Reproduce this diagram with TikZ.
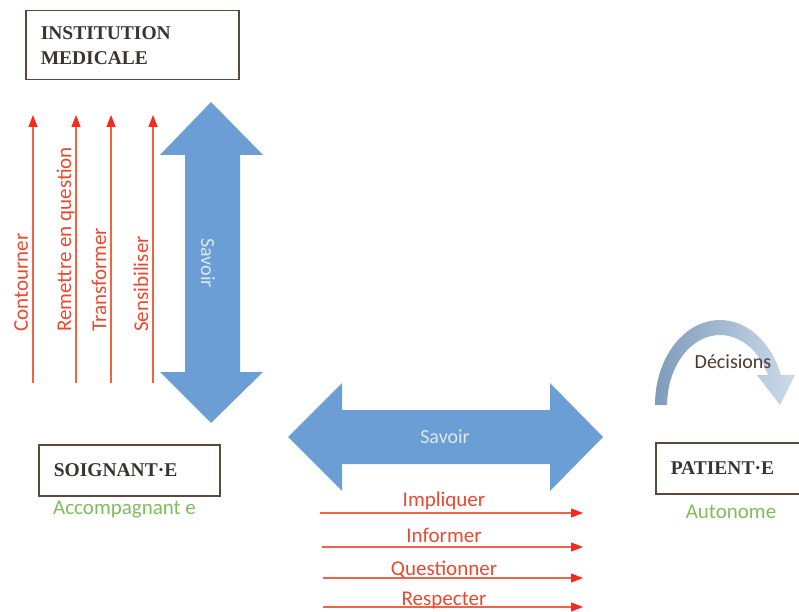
\documentclass[tikz,border=0pt]{standalone}
\usepackage{fontspec}
\setmainfont{Liberation Serif}
\newfontfamily\carl{Carlito}
\usetikzlibrary{arrows.meta}
\definecolor{redline}{RGB}{240,100,70}
\definecolor{redtext}{RGB}{236,72,48}
\definecolor{redtip}{RGB}{250,40,30}
\definecolor{bluearrow}{RGB}{107,158,212}
\definecolor{savoirtext}{RGB}{220,232,244}
\definecolor{boxline}{RGB}{91,74,58}
\definecolor{boxtext}{RGB}{59,52,46}
\definecolor{greentext}{RGB}{125,190,90}
\definecolor{arcdark}{RGB}{126,156,187}
\definecolor{arclight}{RGB}{205,219,234}
\definecolor{dectext}{RGB}{74,59,44}
\begin{document}
\begin{tikzpicture}[x=1pt,y=1pt,
  actor/.style={draw=boxline, line width=1.5pt, rectangle, align=left,
    inner xsep=15pt, inner ysep=0pt, anchor=north west,
    font=\fontsize{19.5}{25}\selectfont\bfseries, text=boxtext},
  redarrow/.style={draw=redline, line width=1.2pt,
    -{Triangle[length=12pt,width=9pt,color=redtip]}},
  vlabel/.style={rotate=90, anchor=base west, inner sep=0pt,
    font=\carl\fontsize{21}{25}\selectfont, text=redtext},
  hlabel/.style={anchor=base, inner sep=0pt,
    font=\carl\fontsize{21}{25}\selectfont, text=redtext},
  savoir/.style={inner sep=0pt, font=\carl\fontsize{20}{24}\selectfont, text=savoirtext},
  greenlabel/.style={inner sep=0pt, font=\carl\fontsize{21}{25}\selectfont, text=greentext}
]
\useasboundingbox (0,0) rectangle (799,611);
\clip (0,0) rectangle (799,611);

% actor boxes
\node[actor, text width=183pt, minimum height=69pt] (inst) at (25,601) {INSTITUTION\\MEDICALE};
\node[actor, text width=151pt, minimum height=51pt] (soig) at (38,167) {SOIGNANT·E};
\node[actor, text width=130pt, minimum height=51pt] (pat) at (655,169) {PATIENT·E};

\node[greenlabel, anchor=west] (acc) at (53,101) {Accompagnant e};
\node[greenlabel] (auto) at (731,99) {Autonome};

% vertical red arrows
\coordinate (c1s) at (33,228);  \coordinate (c1e) at (33,496);
\coordinate (c2s) at (76,228);  \coordinate (c2e) at (76,496);
\coordinate (c3s) at (111,228); \coordinate (c3e) at (111,496);
\coordinate (c4s) at (153,228); \coordinate (c4e) at (153,496);
\draw[redarrow] (c1s) -- (c1e);
\draw[redarrow] (c2s) -- (c2e);
\draw[redarrow] (c3s) -- (c3e);
\draw[redarrow] (c4s) -- (c4e);
\node[vlabel] (l1) at (28,279) {Contourner};
\node[vlabel] (l2) at (71,279) {Remettre en question};
\node[vlabel] (l3) at (106,279) {Transformer};
\node[vlabel] (l4) at (148,279) {Sensibiliser};

% vertical blue double arrow
\fill[bluearrow] (211,509) -- (263,456) -- (240,456) -- (240,239) -- (263,239)
  -- (211,188) -- (160,239) -- (185,239) -- (185,456) -- (160,456) -- cycle;
\node[savoir, rotate=-90] (sv1) at (208,348) {Savoir};

% horizontal blue double arrow
\fill[bluearrow] (288,174) -- (342,228) -- (342,201) -- (550,201) -- (550,228)
  -- (603,174) -- (550,120) -- (550,147) -- (342,147) -- (342,120) -- cycle;
\node[savoir] (sv2) at (445,174) {Savoir};

% horizontal red arrows
\coordinate (h1s) at (320,98); \coordinate (h1e) at (583,98);
\coordinate (h2s) at (322,64); \coordinate (h2e) at (583,64);
\coordinate (h3s) at (323,33); \coordinate (h3e) at (583,33);
\coordinate (h4s) at (323,4);  \coordinate (h4e) at (583,4);
\draw[redarrow] (h1s) -- (h1e);
\draw[redarrow] (h2s) -- (h2e);
\draw[redarrow] (h3s) -- (h3e);
\draw[redarrow] (h4s) -- (h4e);
\node[hlabel] (i1) at (444,105) {Impliquer};
\node[hlabel] (i2) at (444,69) {Informer};
\node[hlabel] (i3) at (444,36) {Questionner};
\node[hlabel] (i4) at (444,6) {Respecter};

% curved arrow
\shade[left color=arcdark, right color=arclight]
  (655,206) arc[start angle=180, end angle=20.7, x radius=65, y radius=85]
  -- (795,236) -- (780,206) -- (757,236) -- (768,236)
  arc[start angle=25.4, end angle=180, x radius=53, y radius=70] -- cycle;
\node[inner sep=0pt, font=\carl\fontsize{20}{24}\selectfont, text=dectext] (dec) at (733,249) {Décisions};
\end{tikzpicture}
\end{document}
